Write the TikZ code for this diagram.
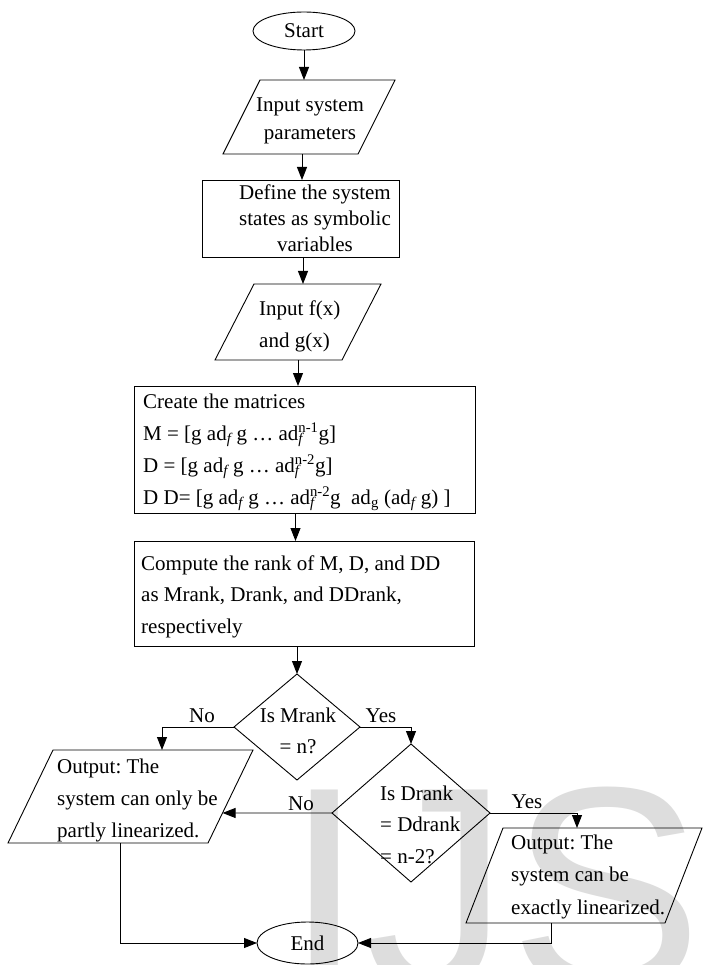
\documentclass[tikz,border=0pt]{standalone}
\usepackage{fontspec}
\setmainfont{Liberation Serif}
\newfontfamily\wmfont{Liberation Sans}
\usetikzlibrary{shapes.geometric,arrows.meta}
\definecolor{wmgray}{RGB}{221,221,221}
\newcommand{\adF}{ad\textsubscript{\itshape f}}
\newcommand{\adFn}[1]{ad\rlap{\textsubscript{\itshape f}}\textsuperscript{#1}}
\newcommand{\adG}{ad\textsubscript{g}}
\newcommand{\fsz}[1]{\fontsize{21}{#1}\selectfont}
\frenchspacing
\tikzset{
  lw/.style={line width=0.9pt,line join=miter},
  arr/.style={line width=0.9pt,-{Triangle[length=13pt,width=10pt]}},
  boxshape/.style={draw,rectangle,line width=0.9pt,inner sep=0pt,outer sep=0pt},
  ovalshape/.style={draw,ellipse,line width=0.9pt,inner sep=0pt,outer sep=0pt,font=\fsz{26}},
  diashape/.style={draw,diamond,line width=0.9pt,inner sep=0pt,outer sep=0pt},
  txt/.style={inner sep=0pt},
  wm/.style={anchor=base west,inner sep=0pt,text=wmgray,font=\wmfont\fontsize{290}{290}\selectfont},
}
\begin{document}
\begin{tikzpicture}[x=1pt,y=-1pt]
\useasboundingbox (0,0) rectangle (703,965);
\clip (0,0) rectangle (703,965);
\fill[white] (0,0) rectangle (703,965);
% watermark
\node[wm] (wmI) at (284,989) {I};
\node[wm] (wmJ) at (364.6,989) {J};
\node[wm] (wmS) at (509.6,989) {S};

% parallelogram corners
\coordinate (in1tl) at (260,80);  \coordinate (in1tr) at (395,80);
\coordinate (in1br) at (358,154); \coordinate (in1bl) at (223,154);
\coordinate (in2tl) at (254,284); \coordinate (in2tr) at (381,284);
\coordinate (in2br) at (342,360); \coordinate (in2bl) at (215,360);
\coordinate (o1tl) at (53,750);   \coordinate (o1tr) at (253,750);
\coordinate (o1br) at (208,843);  \coordinate (o1bl) at (8,843);
\coordinate (o2tl) at (503,828);  \coordinate (o2tr) at (702,828);
\coordinate (o2br) at (665,923);  \coordinate (o2bl) at (466,923);
\draw[lw] (in1tl) -- (in1tr) -- (in1br) -- (in1bl) -- cycle;
\draw[lw] (in2tl) -- (in2tr) -- (in2br) -- (in2bl) -- cycle;
\draw[lw] (o1tl) -- (o1tr) -- (o1br) -- (o1bl) -- cycle;
\draw[lw] (o2tl) -- (o2tr) -- (o2br) -- (o2bl) -- cycle;

% other shapes
\node[ovalshape,minimum width=102pt,minimum height=38pt] (start) at (304,31) {Start};
\node[boxshape,minimum width=197pt,minimum height=77pt] (box1) at (300.5,218.5) {};
\node[boxshape,minimum width=341pt,minimum height=127pt] (mat) at (304.5,449.5) {};
\node[boxshape,minimum width=340pt,minimum height=105pt] (comp) at (304,593.5) {};
\node[diashape,minimum width=126pt,minimum height=106pt] (d1) at (297,727) {};
\node[diashape,minimum width=158pt,minimum height=138pt] (d2) at (411,813) {};
\node[ovalshape,minimum width=101pt,minimum height=42pt] (end) at (307.5,943) {End};

% texts (base anchor = baseline of the last line)
\node[txt,font=\fsz{28},align=center,anchor=base] (in1t) at (310,140) {Input system\\parameters};
\node[txt,font=\fsz{26},align=center,anchor=base] (box1t) at (315,252) {Define the system\\states as symbolic\\variables};
\node[txt,font=\fsz{32},align=left,anchor=base west] (in2t) at (259,347) {Input f(x)\\and g(x)};
\node[txt,font=\fsz{32},align=left,anchor=base west] (matt) at (143,504) {Create the matrices\\M = [g \adF{} g … \adFn{n-1}g]\\D = [g \adF{} g … \adFn{n-2}g]\\D D= [g \adF{} g … \adFn{n-2}g\ \ \adG{} (\adF{} g) ]};
\node[txt,font=\fsz{31.5},align=left,anchor=base west] (compt) at (141,633) {Compute the rank of M, D, and DD\\as Mrank, Drank, and DDrank,\\respectively};
\node[txt,font=\fsz{31},align=center,anchor=base] (d1t) at (298,753) {Is Mrank\\= n?};
\node[txt,font=\fsz{31.5},align=left,anchor=base west] (d2t) at (380,863) {Is Drank\\= Ddrank\\= n-2?};
\node[txt,font=\fsz{32},align=left,anchor=base west] (out1t) at (57,837) {Output: The\\system can only be\\partly linearized.};
\node[txt,font=\fsz{32.5},align=left,anchor=base west] (out2t) at (511,914) {Output: The\\system can be\\exactly linearized.};

% labels
\node[txt,font=\fsz{26},anchor=base] (no1) at (202,722) {No};
\node[txt,font=\fsz{26},anchor=base] (yes1) at (381,722) {Yes};
\node[txt,font=\fsz{26},anchor=base] (no2) at (301,810) {No};
\node[txt,font=\fsz{26},anchor=base] (yes2) at (527,808) {Yes};

% connection points on the parallelograms
\coordinate (in1out) at (302,154);
\coordinate (in2out) at (298,360);
\path (o1tr) -- (o1br) coordinate[pos=0.677] (hitL);
\coordinate (o1in) at (162,750);
\coordinate (o1out) at (120,843);
\coordinate (o2in) at (577,828);
\coordinate (o2out) at (551,923);

% connectors
\draw[arr] (start.south) -- (start.south |- in1tl);
\draw[arr] (in1out) -- (in1out |- box1.north);
\draw[arr] ([xshift=2.5pt]box1.south) -- ([xshift=2.5pt]box1.south |- in2tl);
\draw[arr] (in2out) -- (in2out |- mat.north);
\draw[arr] ([xshift=-9pt]mat.south) -- ([xshift=-9pt]mat.south |- comp.north);
\draw[arr] (d1.north |- comp.south) -- (d1.north);
\draw[arr] (d1.west) -| (o1in);
\draw[arr] (d1.east) -| (d2.north);
\draw[arr] (d2.west) -- (hitL);
\draw[arr] (d2.east) -| (o2in);
\draw[arr] (o1out) |- (end.west);
\draw[arr] (o2out) |- (end.east);
\end{tikzpicture}
\end{document}
